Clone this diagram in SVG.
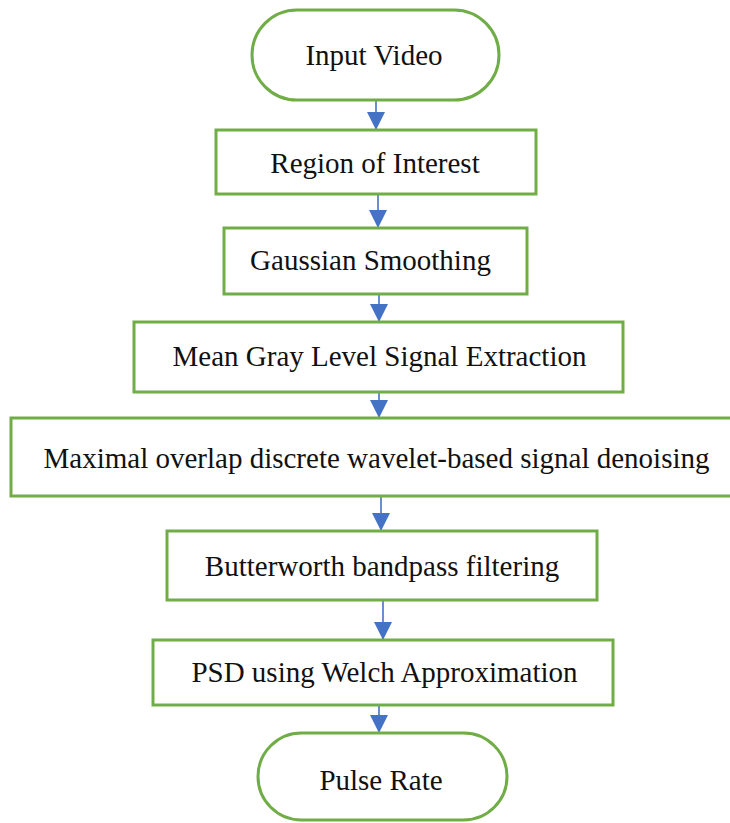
<svg xmlns="http://www.w3.org/2000/svg" width="730" height="823" viewBox="0 0 730 823">
<defs>
<style>
.n{fill:#fff;stroke:#70AD47;stroke-width:3}
.t{font-family:"Liberation Serif","Times New Roman",serif;font-size:29px;fill:#111;text-anchor:middle}
.c{stroke:#4472C4;stroke-width:1.6;fill:none;marker-end:url(#ah)}
</style>
<marker id="ah" markerUnits="userSpaceOnUse" markerWidth="18" markerHeight="18" viewBox="0 0 18 18" refX="18" refY="9" orient="auto">
<path d="M0,0 L18,9 L0,18 Z" fill="#4472C4"/>
</marker>
</defs>
<rect width="730" height="823" fill="#fff"/>
<g id="connectors">
<line class="c" x1="376" y1="100" x2="376" y2="130"/>
<line class="c" x1="378" y1="194" x2="378" y2="228"/>
<line class="c" x1="379" y1="294" x2="379" y2="322"/>
<line class="c" x1="379" y1="392" x2="379" y2="418"/>
<line class="c" x1="381" y1="496" x2="381" y2="531"/>
<line class="c" x1="383" y1="600" x2="383" y2="640"/>
<line class="c" x1="379" y1="705" x2="379" y2="733"/>
</g>
<g id="input-video">
<rect class="n" x="252" y="10" width="247" height="90" rx="45"/>
<text class="t" x="374" y="65">Input Video</text>
</g>
<g id="region-of-interest">
<rect class="n" x="216" y="130" width="320" height="64"/>
<text class="t" x="375" y="173">Region of Interest</text>
</g>
<g id="gaussian-smoothing">
<rect class="n" x="224" y="228" width="303" height="66"/>
<text class="t" x="370.5" y="270">Gaussian Smoothing</text>
</g>
<g id="mean-gray">
<rect class="n" x="134" y="322" width="489" height="70"/>
<text class="t" x="379.5" y="366">Mean Gray Level Signal Extraction</text>
</g>
<g id="modwt">
<rect class="n" x="11" y="418" width="740" height="78"/>
<text class="t" x="376.5" y="468">Maximal overlap discrete wavelet-based signal denoising</text>
</g>
<g id="butterworth">
<rect class="n" x="167" y="531" width="430" height="69"/>
<text class="t" x="382" y="576">Butterworth bandpass filtering</text>
</g>
<g id="psd">
<rect class="n" x="153" y="640" width="460" height="65"/>
<text class="t" x="384.5" y="682">PSD using Welch Approximation</text>
</g>
<g id="pulse-rate">
<rect class="n" x="258" y="733" width="249" height="87" rx="43.5"/>
<text class="t" x="381" y="790">Pulse Rate</text>
</g>
</svg>
